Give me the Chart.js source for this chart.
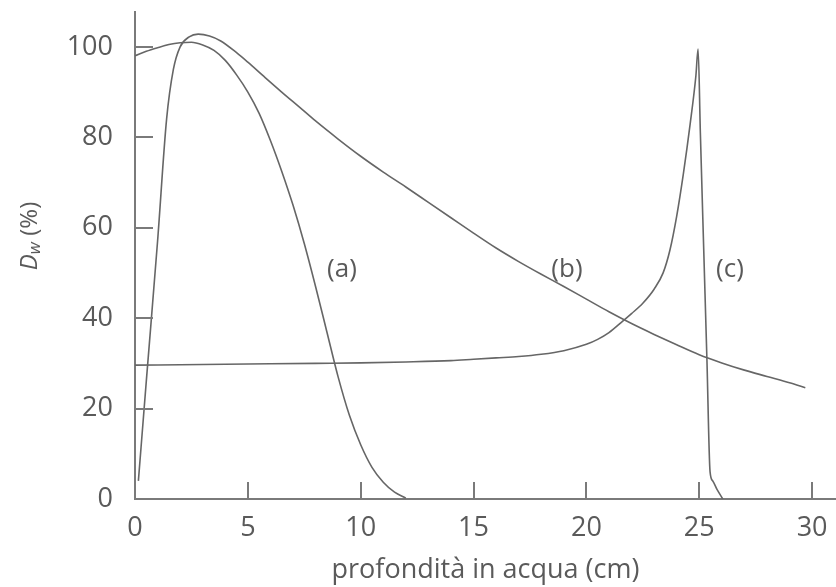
<!DOCTYPE html>
<html lang="it">
<head>
<meta charset="utf-8">
<title>Dose in acqua</title>
<script src="https://cdn.jsdelivr.net/npm/chart.js@4.4.1/dist/chart.umd.min.js"></script>
<style>
html, body { margin: 0; padding: 0; background: #fff; }
#grafico { display: block; }
</style>
</head>
<body>
<canvas id="grafico" width="836" height="587"></canvas>
<script>
// profondità (cm) e dose (%)
const profA = [0, 0.5, 1, 1.5, 2, 2.5, 3, 3.5, 4, 4.5, 5, 5.5, 6, 6.5, 7, 7.5, 8, 8.5, 9, 9.5, 10, 10.5, 11, 11.5, 12];
const doseA = [98, 99, 99.8, 100.5, 100.9, 101, 100.4, 99.2, 97, 93.8, 90, 85.3, 79.3, 72.5, 65, 56.5, 47, 37, 27, 18.5, 12, 7, 3.7, 1.5, 0.2];

const profB = [0.15, 0.5, 1, 1.4, 1.7, 2, 2.4, 2.8, 3.3, 3.8, 4.5, 5, 5.7, 6.5, 7.3, 8, 9, 10, 11, 12, 13, 14, 15, 16, 17, 18, 19, 20, 21, 22, 23, 24, 25, 26, 27, 28, 29, 29.7];
const doseB = [4, 26, 57, 84, 95, 100, 102.2, 102.8, 102.4, 101.3, 98.7, 96.6, 93.5, 90, 86.6, 83.6, 79.6, 75.8, 72.3, 69, 65.6, 62.2, 58.8, 55.5, 52.5, 49.7, 47, 44.2, 41.4, 38.8, 36.4, 34.1, 31.9, 30.1, 28.5, 27.1, 25.7, 24.6];

const profC = [0, 2, 4, 6, 8, 10, 12, 14, 15, 16, 17, 18, 19, 20, 20.5, 21, 21.6, 22, 22.5, 23, 23.4, 23.7, 24, 24.3, 24.6, 24.85, 24.95, 25.05, 25.2, 25.34, 25.48, 25.6, 25.8, 26.05];
const doseC = [29.6, 29.7, 29.8, 29.9, 30, 30.1, 30.3, 30.6, 30.9, 31.2, 31.5, 32, 32.8, 34.2, 35.3, 36.8, 39.3, 41, 43.3, 46.4, 50, 55, 62.5, 72, 83, 93.5, 99.5, 81, 55, 31, 6, 4, 2, 0];

// etichette delle curve e dove stanno (in unità del grafico)
const etichette = ['(a)', '(b)', '(c)'];
const etichetteX = [9.17, 19.14, 26.36];
const etichetteY = [50.7, 50.7, 50.7];

const coloreLinee = '#666666';
const coloreTesto = '#5a5a5a';
const font = '"Open Sans", "DejaVu Sans", sans-serif';

function punti(xs, ys) {
    return xs.map((x, i) => ({ x: x, y: ys[i] }));
}

function serie(xs, ys) {
    return {
        data: punti(xs, ys),
        borderColor: coloreLinee,
        borderWidth: 1.6,
        pointRadius: 0,
        fill: false,
        cubicInterpolationMode: 'monotone'
    };
}

// tacche interne, etichette (a)(b)(c) e titolo asse y con pedice
const assiPlugin = {
    id: 'assi',
    afterDraw(chart) {
        const ctx = chart.ctx;
        const xs = chart.scales.x;
        const ys = chart.scales.y;
        const area = chart.chartArea;

        ctx.save();
        ctx.strokeStyle = '#7a7a7a';
        ctx.lineWidth = 2;
        xs.ticks.forEach(t => {
            if (t.value === 0) return;
            const px = Math.round(xs.getPixelForValue(t.value));
            ctx.beginPath();
            ctx.moveTo(px, area.bottom);
            ctx.lineTo(px, area.bottom - 17);
            ctx.stroke();
        });
        ys.ticks.forEach(t => {
            if (t.value === 0) return;
            const py = Math.round(ys.getPixelForValue(t.value));
            ctx.beginPath();
            ctx.moveTo(area.left, py);
            ctx.lineTo(area.left + 18, py);
            ctx.stroke();
        });

        ctx.fillStyle = coloreTesto;
        ctx.font = '26px ' + font;
        ctx.textAlign = 'center';
        ctx.textBaseline = 'middle';
        etichette.forEach((e, i) => {
            ctx.fillText(e, xs.getPixelForValue(etichetteX[i]), ys.getPixelForValue(etichetteY[i]));
        });

        // "Dw (%)" ruotato
        ctx.translate(30, 236);
        ctx.rotate(-Math.PI / 2);
        ctx.textAlign = 'left';
        ctx.textBaseline = 'middle';
        const fD = 'italic 24px ' + font;
        const fW = 'italic 17px ' + font;
        const fP = '24px ' + font;
        ctx.font = fD; const wD = ctx.measureText('D').width;
        ctx.font = fW; const wW = ctx.measureText('w').width;
        ctx.font = fP; const wP = ctx.measureText(' (%)').width;
        let x0 = -(wD + wW + wP) / 2;
        ctx.font = fD; ctx.fillText('D', x0, 0); x0 += wD;
        ctx.font = fW; ctx.fillText('w', x0, 5); x0 += wW;
        ctx.font = fP; ctx.fillText(' (%)', x0, 0);
        ctx.restore();
    }
};

const ctx = document.getElementById('grafico').getContext('2d');

new Chart(ctx, {
    type: 'line',
    data: {
        datasets: [serie(profA, doseA), serie(profB, doseB), serie(profC, doseC)]
    },
    options: {
        responsive: false,
        animation: false,
        devicePixelRatio: 1,
        layout: { padding: { top: 12, right: 0, left: 0, bottom: 0 } },
        plugins: {
            legend: { display: false },
            tooltip: { enabled: false }
        },
        scales: {
            x: {
                type: 'linear',
                min: 0,
                max: 31.06,
                afterFit: s => { s.height = 88; s.paddingLeft = 0; s.paddingRight = 0; },
                grid: { drawOnChartArea: false, drawTicks: false },
                border: { display: true, color: '#7a7a7a', width: 2 },
                ticks: {
                    stepSize: 5,
                    includeBounds: false,
                    padding: 13,
                    color: coloreTesto,
                    font: { family: font, size: 27 },
                    maxRotation: 0
                },
                title: {
                    display: true,
                    text: 'profondità in acqua (cm)',
                    color: coloreTesto,
                    font: { family: font, size: 27 },
                    padding: { top: 0, bottom: 0 }
                }
            },
            y: {
                min: 0,
                max: 107.7,
                afterFit: s => { s.width = 135; s.paddingTop = 0; s.paddingBottom = 0; },
                grid: { drawOnChartArea: false, drawTicks: false },
                border: { display: true, color: '#7a7a7a', width: 2 },
                ticks: {
                    stepSize: 20,
                    includeBounds: false,
                    padding: 22,
                    color: coloreTesto,
                    font: { family: font, size: 27 }
                }
            }
        }
    },
    plugins: [assiPlugin]
});
</script>
</body>
</html>
